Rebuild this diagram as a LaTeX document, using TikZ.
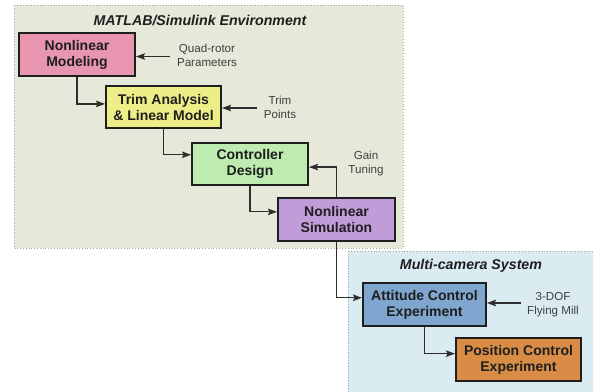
\documentclass[tikz,border=0pt]{standalone}
\usepackage{fontspec}
\setmainfont{Liberation Sans}
\usetikzlibrary{arrows.meta,calc}
\definecolor{envbg}{RGB}{230,232,218}
\definecolor{cambg}{RGB}{218,236,242}
\definecolor{pinkf}{RGB}{232,150,176}
\definecolor{yellowf}{RGB}{238,238,136}
\definecolor{greenf}{RGB}{190,235,176}
\definecolor{purplef}{RGB}{192,156,216}
\definecolor{bluef}{RGB}{126,166,206}
\definecolor{orangef}{RGB}{216,140,70}
\definecolor{txt}{RGB}{30,30,30}
\definecolor{lin}{RGB}{45,45,45}
\begin{document}
\begin{tikzpicture}[x=1pt,y=-1pt,
  blockbox/.style={draw=txt,line width=2pt,minimum width=#1,minimum height=43pt,align=center,
    text=txt,font=\fontsize{14}{16}\selectfont\bfseries,inner sep=0pt},
  sidelbl/.style={align=center,text=txt!85,font=\fontsize{11.6}{14}\selectfont},
  ttl/.style={text=txt,font=\fontsize{14.2}{16}\selectfont\bfseries\itshape},
  region/.style={draw=gray!70,dotted,line width=0.8pt},
  conn/.style={draw=lin,line width=1.2pt,-{Stealth[length=9pt,width=6.5pt,inset=1.5pt]}}]
\clip (0,0) rectangle (593,391);
\fill[white] (0,0) rectangle (593,391);
% regions
\filldraw[region,fill=envbg] (14,5) rectangle (403,248);
\filldraw[region,fill=cambg] (348,251) rectangle (600,400);
\node[ttl] (t1) at (200,20) {MATLAB/Simulink Environment};
\node[ttl] (t2) at (471,266) {Multi-camera System};
% blocks
\node[blockbox=116pt,fill=pinkf] (nm) at (77,54.5) {Nonlinear\\Modeling};
\node[blockbox=115pt,fill=yellowf,minimum height=42pt] (tr) at (163.5,107) {Trim Analysis\\\& Linear Model};
\node[blockbox=116pt,fill=greenf,minimum height=42pt] (cd) at (250,164) {Controller\\Design};
\node[blockbox=117pt,fill=purplef] (ns) at (336.5,219.5) {Nonlinear\\Simulation};
\node[blockbox=123pt,fill=bluef] (ac) at (424.5,304.5) {Attitude Control\\Experiment};
\node[blockbox=125pt,fill=orangef] (pc) at (518.5,359.5) {Position Control\\Experiment};
% side labels
\node[sidelbl] (ql) at (207,55) {Quad-rotor\\Parameters};
\node[sidelbl] (tl) at (280,107) {Trim\\Points};
\node[sidelbl] (gl) at (366,163.5) {Gain\\Tuning};
\node[sidelbl] (fl) at (553,305) {3-DOF\\Flying Mill};
% connectors
\draw[conn] (nm.south) |- ($(tr.north west)!0.43!(tr.south west)$);
\draw[conn] (tr.south) |- ($(cd.north west)!0.29!(cd.south west)$);
\draw[conn] (cd.south) |- ($(ns.north west)!0.33!(ns.south west)$);
\draw[conn] (ns.south) |- ($(ac.north west)!0.35!(ac.south west)$);
\draw[conn] (ac.south) |- ($(pc.north west)!0.37!(pc.south west)$);
\draw[conn] (ns.north) |- ($(cd.north east)!0.57!(cd.south east)$);
\draw[conn,shorten <=3pt] ($(ql.west)+(0,1.5)$) -- (nm.east |- {$(ql.west)+(0,1.5)$});
\draw[conn,shorten <=3pt] ($(tl.west)+(0,1)$) -- (tr.east |- {$(tl.west)+(0,1)$});
\draw[conn,shorten <=3pt] ($(fl.west)+(0,-2)$) -- (ac.east |- {$(fl.west)+(0,-2)$});
\end{tikzpicture}
\end{document}
